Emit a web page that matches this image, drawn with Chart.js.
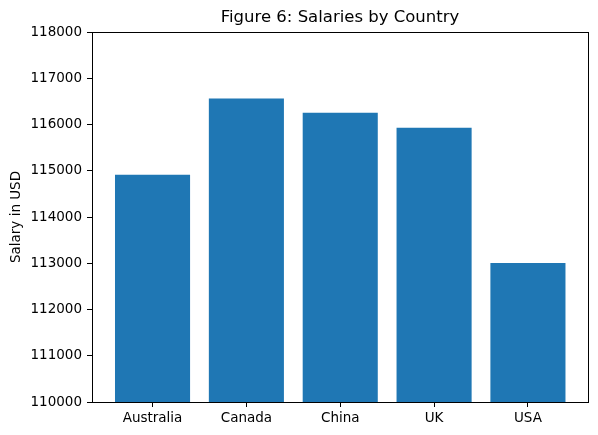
<!DOCTYPE html>
<html>
<head>
<meta charset="utf-8">
<script src="https://cdn.jsdelivr.net/npm/chart.js@4/dist/chart.umd.min.js"></script>
<style>
  html, body { margin: 0; padding: 0; background: #fff; }
  #wrap { width: 598px; height: 435px; }
</style>
</head>
<body>
<div id="wrap"><canvas id="chart"></canvas></div>
<script>
// ── data ──
const countries = ['Australia', 'Canada', 'China', 'UK', 'USA'];
const salaries = [114913, 116560, 116255, 115930, 113005];
const Y_MIN = 110000, Y_MAX = 118000, Y_STEP = 1000;
const TITLE = 'Figure 6: Salaries by Country';

const FONT = "'DejaVu Sans', sans-serif";

// spines on all four sides + title centred over the plot area (matplotlib style)
const frame = {
  id: 'frame',
  afterDatasetsDraw(chart) {
    const { ctx, chartArea: a } = chart;
    ctx.save();
    ctx.strokeStyle = '#000';
    ctx.lineWidth = 1;
    ctx.strokeRect(Math.round(a.left) + 0.5, Math.round(a.top) + 0.5,
      Math.round(a.right - a.left), Math.round(a.bottom - a.top));
    ctx.fillStyle = '#000';
    ctx.font = '16.5px ' + FONT;
    ctx.textAlign = 'center';
    ctx.textBaseline = 'middle';
    ctx.fillText(TITLE, (a.left + a.right) / 2, 18);
    ctx.restore();
  }
};

new Chart(document.getElementById('chart'), {
  type: 'bar',
  data: {
    datasets: [{
      data: countries.map((c, i) => ({ x: i, y: salaries[i] })),
      backgroundColor: '#1f77b4',
      borderWidth: 0,
      categoryPercentage: 1,
      barPercentage: 0.8
    }]
  },
  options: {
    responsive: true,
    maintainAspectRatio: false,
    animation: false,
    layout: { padding: { left: 0, right: 10, top: 32, bottom: 0 } },
    plugins: {
      legend: { display: false },
      tooltip: { enabled: false },
      title: { display: false }
    },
    scales: {
      x: {
        type: 'linear',
        min: -0.645, max: 4.64,
        offset: false,
        afterBuildTicks: axis => { axis.ticks = countries.map((_, i) => ({ value: i })); },
        afterFit: axis => { axis.height = 33; },
        grid: { display: true, offset: false, drawOnChartArea: false, drawTicks: true, tickLength: 5, color: '#000' },
        border: { display: true, color: '#000' },
        ticks: {
          color: '#000',
          padding: 3,
          autoSkip: false,
          maxRotation: 0,
          font: { family: FONT, size: 13.5 },
          callback: v => countries[v]
        }
      },
      y: {
        min: Y_MIN, max: Y_MAX,
        afterFit: axis => { axis.width = 92; },
        grid: { display: true, drawOnChartArea: false, drawTicks: true, tickLength: 5, color: '#000' },
        border: { display: true, color: '#000' },
        ticks: {
          stepSize: Y_STEP,
          color: '#000',
          padding: 5,
          font: { family: FONT, size: 13.5 },
          callback: v => String(v)
        },
        title: {
          display: true,
          text: 'Salary in USD',
          color: '#000',
          font: { family: FONT, size: 13.5 },
          padding: { top: 8, bottom: 0 }
        }
      }
    }
  },
  plugins: [frame]
});
</script>
</body>
</html>
